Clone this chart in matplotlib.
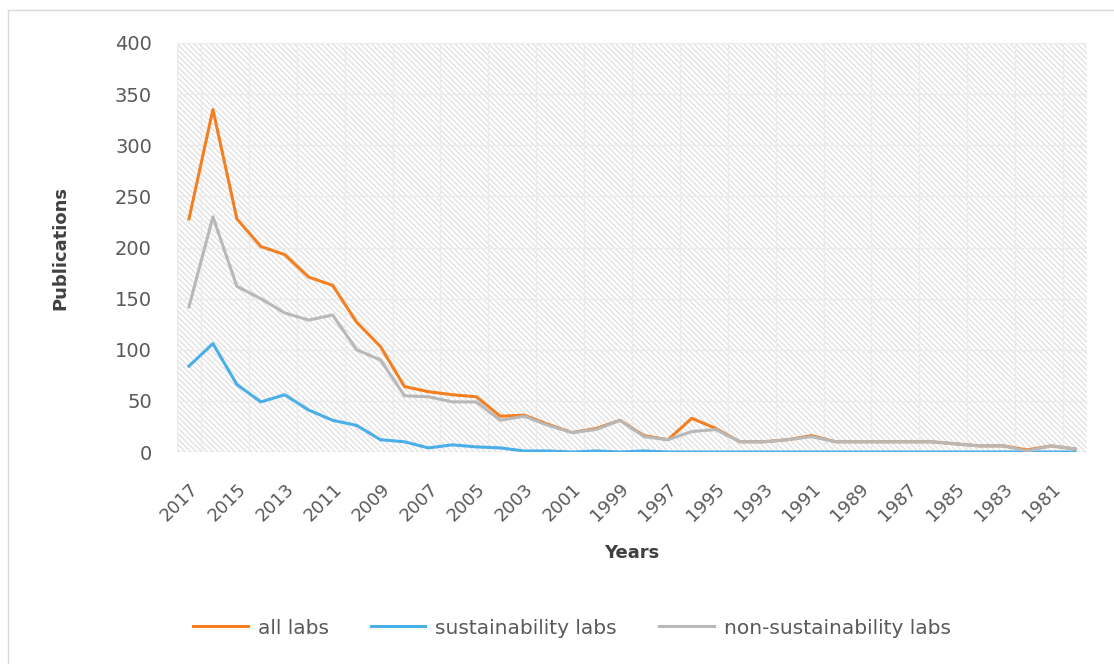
import matplotlib
matplotlib.use("Agg")
import matplotlib.pyplot as plt
from matplotlib.patches import Rectangle
from matplotlib.lines import Line2D

# years run from 2017 back to 1980 (left to right)
years = list(range(2017, 1979, -1))
all_labs = [228, 335, 228, 201, 193, 171, 163, 127, 103, 64, 59, 56, 54, 35, 36, 27,
            19, 23, 31, 16, 12, 33, 23, 10, 10, 12, 16, 10, 10, 10, 10, 10, 8, 6, 6, 2, 6, 3]
sustainability_labs = [84, 106, 66, 49, 56, 41, 31, 26, 12, 10, 4, 7, 5, 4, 1, 1,
                       0, 1, 0, 1, 0, 0, 0, 0, 0, 0, 0, 0, 0, 0, 0, 0, 0, 0, 0, 0, 0, 0]
non_sustainability_labs = [142, 230, 162, 150, 136, 129, 134, 100, 90, 55, 54, 49, 49, 31, 35, 26,
                           19, 22, 31, 15, 12, 20, 22, 10, 10, 12, 15, 10, 10, 10, 10, 10, 8, 6, 6, 1, 6, 3]
series_names = ["all labs", "sustainability labs", "non-sustainability labs"]
colors = ["#F47F20", "#4AAEE8", "#B8B8B8"]

plt.rcParams["font.family"] = ["DejaVu Sans"]
plt.rcParams["hatch.linewidth"] = 1.0
plt.rcParams["hatch.color"] = "#E2E2E2"

fig = plt.figure(figsize=(11.14, 6.64), dpi=100)
ax = fig.add_axes([177 / 1114, 1 - 452 / 664, 910 / 1114, 409 / 664])

x = list(range(len(years)))
ax.set_xlim(-0.5, len(years) - 0.5)
ax.set_ylim(0, 400)

# hatched plot background
ax.add_patch(Rectangle((0, 0), 1, 1, transform=ax.transAxes, facecolor="white",
                       edgecolor="#E2E2E2", hatch="\\" * 6, linewidth=0, zorder=0))

for yv in range(50, 401, 50):
    ax.axhline(yv, color="#EBEBEB", linewidth=1, zorder=1)
for xv in [-0.5] + [i + 0.5 for i in range(0, len(years) - 1, 2)] + [len(years) - 0.5]:
    ax.axvline(xv, color="#EBEBEB", linewidth=1, zorder=1)
ax.axhline(0, color="#D9D9D9", linewidth=1, zorder=1)

for vals, name, c in zip([all_labs, sustainability_labs, non_sustainability_labs], series_names, colors):
    ax.plot(x, vals, color=c, linewidth=2.2, label=name, zorder=3, solid_joinstyle="round")

for s in ax.spines.values():
    s.set_visible(False)

ax.set_yticks(range(0, 401, 50))
ax.set_xticks(x[::2])
ax.set_xticklabels([str(y) for y in years[::2]], rotation=45, ha="right", rotation_mode="anchor")
ax.tick_params(axis="both", length=0, labelcolor="#595959")
ax.tick_params(axis="y", pad=18, labelsize=14)
ax.tick_params(axis="x", pad=20, labelsize=13)

ax.set_ylabel("Publications", fontsize=13, fontweight="bold", color="#404040", labelpad=33)
ax.set_xlabel("Years", fontsize=13, fontweight="bold", color="#404040", labelpad=14)

fig.legend(loc="center", bbox_to_anchor=(572 / 1114, 1 - 628 / 664), ncol=3, frameon=False,
           fontsize=14.5, handlelength=2.7, handletextpad=0.5, columnspacing=2.1,
           labelcolor="#595959")

# outer chart frame (only left and top edges are visible)
fig.add_artist(Line2D([7.5 / 1114, 7.5 / 1114], [0, 1 - 10 / 664], transform=fig.transFigure,
                      color="#D9D9D9", linewidth=1))
fig.add_artist(Line2D([7.5 / 1114, 1], [1 - 10 / 664, 1 - 10 / 664], transform=fig.transFigure,
                      color="#D9D9D9", linewidth=1))

fig.savefig("out.png", dpi=100, facecolor="white")
